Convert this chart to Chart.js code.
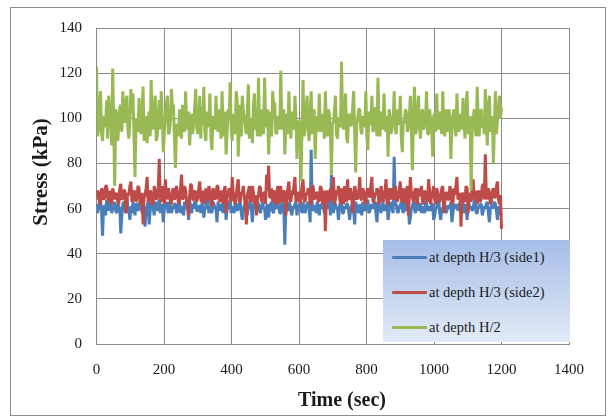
<!DOCTYPE html>
<html lang="en">
<head>
  <meta charset="UTF-8" />
  <title>Stress vs Time</title>
  <script src="https://cdn.jsdelivr.net/npm/chart.js"></script>
  <style>
    body {
      margin: 0;
      background: #ffffff;
    }

    .wrap {
      position: relative;
      width: 608px;
      height: 419px;
    }

    #chart {
      position: absolute;
      left: 0;
      top: 0;
    }

    .frame {
      position: absolute;
      left: 10px;
      top: 7px;
      width: 594px;
      height: 407px;
      border: 1px solid #8c8c8c;
      pointer-events: none;
    }

    .legend {
      position: absolute;
      left: 383px;
      top: 240px;
      width: 187px;
      height: 102px;
      background: linear-gradient(to bottom, #a6bee7, #e2eaf6);
      font-family: 'Liberation Serif', serif;
      font-size: 14.5px;
      color: #1a1a1a;
    }

    .legend .item {
      position: absolute;
      left: 9px;
      height: 20px;
      display: flex;
      align-items: center;
      white-space: nowrap;
    }

    .legend .swatch {
      width: 35px;
      height: 3px;
      margin-right: 2px;
      border-radius: 1px;
    }
  </style>
</head>
<body>
  <div class="wrap">
    <canvas id="chart" width="608" height="419"></canvas>
    <div class="frame"></div>
    <div class="legend" id="legend"></div>
  </div>

  <script>
    // one reading every 3 s, 0 .. 1200 s (20 readings per row = 60 s)
    const sampleStep = 3;

    const seriesNames = ['at depth H/3 (side1)', 'at depth H/3 (side2)', 'at depth H/2'];
    const seriesColors = ['#4a7ebb', '#be4b48', '#98b954'];

    const side1 = [
      62, 58, 60, 63, 63, 59, 48, 61, 61, 57, 64, 62, 59, 63, 62, 58, 60, 61, 63, 59,
      58, 62, 61, 60, 49, 57, 62, 63, 60, 58, 64, 61, 59, 55, 61, 58, 63, 60, 57, 62,
      62, 59, 60, 63, 64, 58, 58, 61, 52, 60, 61, 63, 53, 59, 63, 61, 60, 57, 62, 63,
      59, 61, 64, 58, 61, 62, 54, 60, 62, 63, 60, 58, 63, 61, 58, 60, 61, 62, 62, 58,
      59, 62, 63, 58, 60, 61, 57, 63, 62, 60, 61, 55, 64, 60, 58, 62, 60, 63, 63, 59,
      59, 61, 61, 58, 62, 63, 56, 60, 60, 62, 64, 58, 61, 59, 58, 63, 62, 60, 60, 54,
      63, 60, 59, 62, 61, 58, 62, 63, 55, 60, 60, 62, 64, 58, 61, 60, 58, 63, 62, 59,
      60, 62, 63, 58, 55, 60, 61, 63, 59, 57, 62, 61, 64, 59, 54, 62, 61, 60, 60, 63,
      62, 59, 58, 61, 63, 60, 60, 55, 61, 62, 56, 60, 62, 63, 59, 58, 64, 61, 60, 62,
      61, 58, 58, 63, 62, 60, 44, 61, 60, 59, 63, 62, 59, 57, 61, 60, 62, 63, 57, 60,
      61, 62, 60, 58, 63, 61, 58, 60, 62, 63, 60, 54, 86, 62, 59, 61, 61, 58, 63, 60,
      57, 62, 60, 61, 62, 58, 59, 63, 61, 60, 64, 57, 75, 61, 58, 62, 62, 60, 60, 55,
      61, 63, 63, 58, 58, 61, 60, 62, 62, 59, 55, 60, 61, 63, 59, 53, 63, 61, 60, 58,
      62, 60, 57, 63, 61, 59, 60, 62, 64, 58, 59, 61, 62, 60, 61, 63, 58, 54, 63, 61,
      60, 58, 62, 63, 59, 60, 61, 62, 55, 59, 63, 61, 60, 58, 83, 62, 62, 59, 58, 61,
      61, 63, 60, 58, 64, 60, 59, 62, 62, 53, 56, 60, 61, 63, 60, 58, 63, 61, 59, 62,
      62, 58, 61, 60, 58, 63, 63, 59, 60, 61, 59, 62, 62, 55, 57, 60, 61, 63, 64, 58,
      55, 60, 60, 62, 62, 58, 59, 61, 61, 60, 63, 54, 58, 62, 60, 61, 62, 59, 61, 63,
      59, 60, 63, 58, 60, 62, 55, 61, 62, 60, 61, 59, 60, 63, 64, 58, 58, 61, 61, 62,
      62, 57, 59, 61, 60, 62, 63, 58, 54, 60, 61, 62, 60, 63, 62, 59, 55, 61, 60, 58,
      57
    ];

    const side2 = [
      64, 68, 67, 63, 62, 69, 68, 64, 65, 70, 70, 65, 63, 68, 66, 62, 69, 67, 64, 66,
      67, 63, 62, 69, 71, 64, 65, 68, 68, 58, 63, 67, 66, 70, 72, 63, 64, 68, 67, 63,
      65, 70, 69, 62, 63, 67, 53, 65, 66, 69, 74, 63, 64, 68, 67, 62, 62, 70, 68, 64,
      65, 69, 82, 64, 63, 70, 67, 62, 73, 66, 64, 69, 66, 63, 62, 68, 69, 64, 65, 70,
      67, 62, 63, 69, 75, 64, 65, 70, 68, 63, 62, 57, 66, 71, 70, 64, 64, 68, 67, 63,
      65, 69, 72, 64, 63, 68, 66, 62, 69, 67, 64, 70, 67, 63, 61, 69, 68, 64, 65, 70,
      70, 64, 63, 68, 66, 62, 68, 70, 58, 66, 67, 69, 65, 63, 74, 67, 64, 62, 66, 70,
      73, 63, 63, 67, 67, 70, 65, 62, 53, 66, 68, 70, 64, 63, 70, 67, 62, 66, 57, 64,
      66, 70, 69, 63, 64, 67, 67, 62, 75, 68, 79, 65, 65, 69, 63, 67, 68, 62, 66, 70,
      62, 67, 70, 63, 64, 68, 67, 57, 65, 69, 72, 64, 63, 68, 66, 70, 74, 63, 64, 67,
      67, 62, 65, 70, 73, 64, 63, 67, 66, 69, 68, 62, 62, 70, 70, 64, 65, 67, 67, 63,
      64, 70, 69, 62, 66, 68, 50, 64, 68, 66, 63, 69, 67, 64, 74, 62, 64, 68, 66, 70,
      65, 62, 69, 67, 62, 70, 67, 63, 73, 65, 64, 69, 66, 58, 63, 70, 68, 64, 65, 67,
      74, 64, 64, 69, 67, 63, 62, 68, 69, 66, 65, 70, 74, 63, 63, 67, 66, 69, 68, 62,
      64, 70, 67, 63, 65, 68, 73, 62, 62, 69, 66, 64, 69, 67, 64, 70, 67, 63, 65, 68,
      72, 64, 63, 69, 66, 62, 68, 70, 57, 65, 74, 67, 65, 63, 67, 69, 64, 62, 69, 66,
      66, 70, 63, 62, 68, 67, 65, 63, 73, 68, 62, 66, 67, 70, 64, 62, 69, 67, 66, 63,
      65, 69, 70, 58, 63, 67, 67, 64, 64, 70, 68, 63, 62, 69, 66, 70, 74, 64, 65, 67,
      52, 66, 67, 63, 64, 70, 69, 58, 65, 67, 63, 69, 73, 64, 66, 68, 62, 67, 68, 63,
      65, 70, 71, 64, 84, 66, 64, 69, 67, 62, 63, 68, 69, 65, 65, 70, 72, 64, 62, 66,
      51
    ];

    const middle = [
      123, 92, 95, 106, 112, 93, 90, 101, 100, 96, 108, 91, 110, 103, 99, 88, 122, 97, 70, 104,
      101, 90, 96, 105, 106, 94, 112, 100, 98, 107, 110, 95, 91, 99, 113, 102, 111, 93, 74, 98,
      100, 94, 109, 96, 93, 103, 114, 90, 96, 101, 89, 99, 103, 92, 117, 98, 95, 104, 110, 90,
      92, 102, 108, 95, 112, 100, 85, 94, 101, 106, 110, 93, 94, 99, 113, 105, 106, 91, 78, 97,
      97, 92, 104, 99, 91, 106, 100, 94, 112, 98, 95, 103, 88, 97, 102, 93, 98, 105, 113, 96,
      93, 100, 110, 91, 105, 97, 114, 94, 90, 103, 96, 99, 111, 92, 86, 101, 100, 95, 110, 98,
      94, 104, 99, 91, 112, 97, 92, 103, 84, 94, 104, 100, 116, 95, 90, 102, 98, 93, 112, 107,
      83, 97, 106, 92, 110, 103, 100, 96, 93, 104, 115, 91, 97, 100, 89, 106, 111, 95, 99, 92,
      118, 95, 92, 104, 100, 93, 118, 99, 96, 104, 84, 97, 103, 92, 112, 105, 107, 94, 93, 101,
      100, 95, 121, 98, 95, 104, 84, 96, 102, 93, 112, 99, 91, 103, 98, 95, 110, 100, 82, 97,
      99, 94, 72, 96, 117, 92, 96, 104, 110, 95, 90, 101, 112, 93, 97, 104, 82, 99, 101, 94,
      111, 97, 94, 102, 99, 91, 112, 98, 92, 104, 102, 95, 75, 98, 98, 103, 110, 93, 91, 100,
      100, 96, 125, 99, 95, 103, 111, 92, 89, 101, 102, 97, 97, 105, 112, 93, 76, 98, 99, 104,
      104, 95, 93, 101, 100, 96, 112, 92, 86, 103, 97, 99, 110, 94, 95, 105, 101, 92, 118, 97,
      92, 103, 99, 95, 111, 98, 94, 101, 83, 104, 101, 93, 97, 99, 112, 95, 93, 104, 100, 97,
      110, 92, 85, 99, 98, 104, 103, 94, 96, 101, 110, 95, 77, 99, 114, 93, 95, 103, 110, 96,
      91, 102, 104, 95, 97, 101, 112, 93, 93, 104, 99, 96, 83, 101, 102, 94, 111, 98, 95, 103,
      100, 93, 112, 97, 92, 104, 98, 94, 104, 100, 82, 96, 101, 104, 96, 92, 111, 99, 94, 102,
      99, 95, 109, 98, 91, 104, 112, 93, 97, 101, 68, 95, 100, 104, 95, 92, 114, 99, 92, 103,
      104, 96, 98, 93, 113, 99, 88, 105, 110, 94, 96, 101, 80, 97, 112, 93, 99, 104, 110, 100,
      105
    ];

    function toPoints(values) {
      return values.map((v, i) => ({ x: i * sampleStep, y: v }));
    }

    // axis titles drawn at the spots the original uses
    const axisTitles = {
      id: 'axisTitles',
      afterDraw(chart) {
        const ctx = chart.ctx;
        ctx.save();
        ctx.fillStyle = '#1a1a1a';
        ctx.textAlign = 'center';
        ctx.textBaseline = 'middle';
        ctx.font = 'bold 20px "Liberation Serif"';
        ctx.fillText('Time (sec)', 342, 401);
        ctx.translate(42, 172);
        ctx.rotate(-Math.PI / 2);
        ctx.font = 'bold 21px "Liberation Serif"';
        ctx.fillText('Stress (kPa)', 0, 0);
        ctx.restore();
      }
    };

    const allSeries = [side1, side2, middle];

    new Chart(document.getElementById('chart'), {
      type: 'line',
      data: {
        datasets: allSeries.map((vals, i) => ({
          label: seriesNames[i],
          data: toPoints(vals),
          borderColor: seriesColors[i],
          borderWidth: 3,
          borderJoinStyle: 'bevel',
          pointRadius: 0,
          tension: 0,
          order: 3 - i
        }))
      },
      options: {
        responsive: false,
        animation: false,
        layout: {
          padding: { left: 0, top: 28, right: 39, bottom: 0 }
        },
        plugins: {
          legend: { display: false },
          tooltip: { enabled: false }
        },
        scales: {
          x: {
            type: 'linear',
            min: 0,
            max: 1400,
            afterFit: s => { s.height = 75; },
            grid: { color: '#8a8a8a', drawTicks: false },
            border: { color: '#8a8a8a' },
            ticks: {
              stepSize: 200,
              padding: 17,
              color: '#1a1a1a',
              font: { family: 'Liberation Serif', size: 15 },
              callback: v => String(v)
            }
          },
          y: {
            min: 0,
            max: 140,
            afterFit: s => { s.width = 96.5; },
            grid: { color: '#8a8a8a', drawTicks: false },
            border: { color: '#8a8a8a' },
            ticks: {
              stepSize: 20,
              padding: 14.5,
              color: '#1a1a1a',
              font: { family: 'Liberation Serif', size: 15 }
            }
          }
        }
      },
      plugins: [axisTitles]
    });

    // legend box over the plot, like the original
    const legend = document.getElementById('legend');
    const rowCenters = [17, 52, 87];
    seriesNames.forEach((name, i) => {
      const item = document.createElement('div');
      item.className = 'item';
      item.style.top = (rowCenters[i] - 10) + 'px';
      item.innerHTML = `<span class="swatch" style="background:${seriesColors[i]}"></span>${name}`;
      legend.appendChild(item);
    });
  </script>
</body>
</html>
